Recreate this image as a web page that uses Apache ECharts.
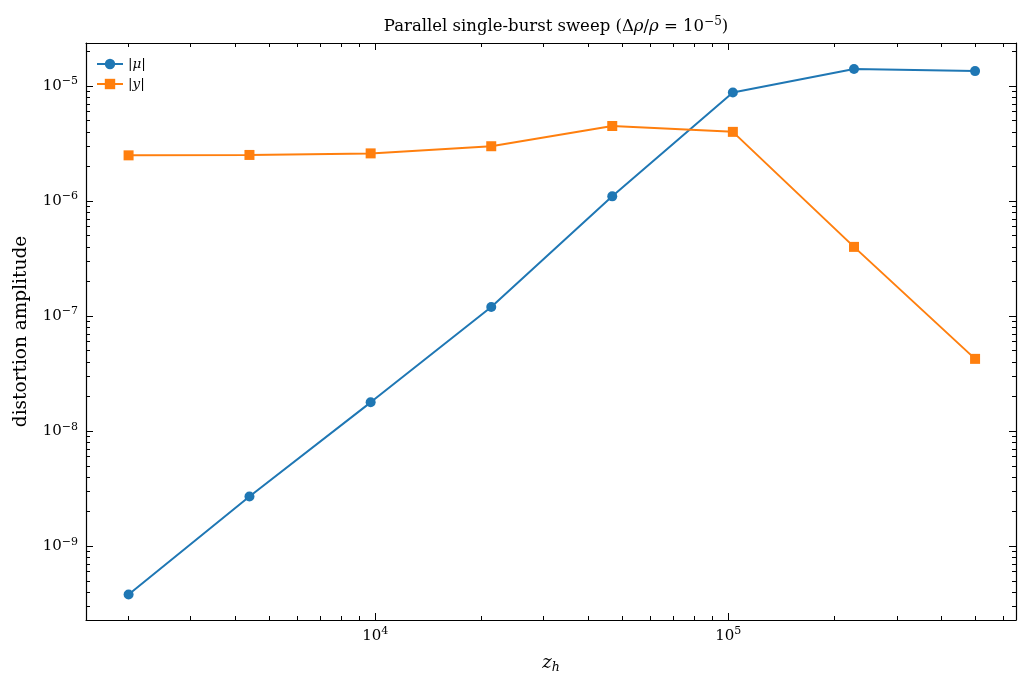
<!DOCTYPE html>
<html>
<head>
<meta charset="utf-8">
<script src="https://cdn.jsdelivr.net/npm/echarts@6/dist/echarts.min.js"></script>
<style>
  html, body { margin: 0; padding: 0; background: #fff; }
  #chart { width: 1031px; height: 684px; }
</style>
</head>
<body>
<div id="chart"></div>
<script>
// data
var zh = [2000, 4400, 9700, 21300, 46900, 103000, 227000, 500000]
var muAmp = [3.8e-10, 2.7e-9, 1.78e-8, 1.2e-7, 1.1e-6, 8.8e-6, 1.41e-5, 1.35e-5]
var yAmp = [2.5e-6, 2.52e-6, 2.6e-6, 3.0e-6, 4.5e-6, 4.0e-6, 4.0e-7, 4.25e-8]

// ticks
var xMajor = [1e4, 1e5]
var yMajor = [1e-9, 1e-8, 1e-7, 1e-6, 1e-5]
var xMinor = [2e3, 3e3, 4e3, 5e3, 6e3, 7e3, 8e3, 9e3, 2e4, 3e4, 4e4, 5e4, 6e4, 7e4, 8e4, 9e4, 2e5, 3e5, 4e5, 5e5, 6e5]
var yMinor = [3e-10, 4e-10, 5e-10, 6e-10, 7e-10, 8e-10, 9e-10,
  2e-9, 3e-9, 4e-9, 5e-9, 6e-9, 7e-9, 8e-9, 9e-9,
  2e-8, 3e-8, 4e-8, 5e-8, 6e-8, 7e-8, 8e-8, 9e-8,
  2e-7, 3e-7, 4e-7, 5e-7, 6e-7, 7e-7, 8e-7, 9e-7,
  2e-6, 3e-6, 4e-6, 5e-6, 6e-6, 7e-6, 8e-6, 9e-6, 2e-5]

var xRange = [1515, 653000]
var yRange = [2.28e-10, 2.37e-5]

var FONT = 'DejaVu Serif'
var supRich = {
  b: { fontFamily: FONT, fontSize: 15, color: '#000' },
  s: { fontFamily: FONT, fontSize: 11, color: '#000', padding: [0, 0, 9, 0] }
}

function powLabel (v) {
  var e = Math.round(Math.log10(v))
  return '{b|10}{s|' + String(e).replace('-', '−') + '}'
}

// one axis: major or minor ticks on one side (matplotlib style, ticks inward)
function axis (pos, range, ticks, len, opts) {
  opts = opts || {}
  return {
    type: 'log',
    logBase: 10,
    position: pos,
    min: range[0],
    max: range[1],
    splitLine: { show: false },
    axisLine: { show: !!opts.line, onZero: false, lineStyle: { color: '#000', width: 1.2 } },
    axisTick: { show: true, inside: true, length: len, customValues: ticks, lineStyle: { color: '#000', width: 1 } },
    axisLabel: opts.label ? {
      show: true, customValues: ticks, formatter: powLabel, rich: supRich, margin: opts.margin
    } : { show: false },
    name: opts.name,
    nameLocation: 'middle',
    nameGap: opts.nameGap,
    nameTextStyle: opts.nameStyle
  }
}

var chart = echarts.init(document.getElementById('chart'))
chart.setOption({
  animation: false,
  title: {
    text: '{r|Parallel single-burst sweep (Δ}{i|ρ}{r|/}{i|ρ}{r| = 10}{s|−5}{r|)}',
    left: 551,
    textAlign: 'center',
    top: 11,
    textStyle: {
      fontWeight: 'normal',
      rich: {
        r: { fontFamily: FONT, fontSize: 16.5, fontWeight: 'normal', color: '#000' },
        i: { fontFamily: FONT, fontSize: 16.5, fontWeight: 'normal', fontStyle: 'italic', color: '#000' },
        s: { fontFamily: FONT, fontSize: 12, fontWeight: 'normal', color: '#000', padding: [0, 0, 9, 0] }
      }
    }
  },
  legend: {
    left: 91,
    top: 52,
    orient: 'vertical',
    itemWidth: 26,
    itemHeight: 13,
    itemGap: 6,
    formatter: function (name) {
      return name === 'mu' ? '|{i|μ}|' : '|{i|y}|'
    },
    textStyle: {
      fontFamily: FONT, fontSize: 13.5, color: '#000',
      rich: { i: { fontFamily: FONT, fontSize: 13.5, fontStyle: 'italic', color: '#000' } }
    }
  },
  grid: { left: 86, right: 15, top: 43, bottom: 64 },
  xAxis: [
    axis('bottom', xRange, xMajor, 7, {
      line: true, label: true, margin: 6,
      name: '{i|z}{sub|h}', nameGap: 33,
      nameStyle: {
        rich: {
          i: { fontFamily: FONT, fontSize: 18, fontStyle: 'italic', color: '#000' },
          sub: { fontFamily: FONT, fontSize: 12.5, fontStyle: 'italic', color: '#000', padding: [8, 0, 0, 0] }
        }
      }
    }),
    axis('bottom', xRange, xMinor, 4),
    axis('top', xRange, xMajor, 7, { line: true }),
    axis('top', xRange, xMinor, 4)
  ],
  yAxis: [
    axis('left', yRange, yMajor, 7, {
      line: true, label: true, margin: 8,
      name: 'distortion amplitude', nameGap: 55,
      nameStyle: { fontFamily: FONT, fontSize: 18.5, color: '#000' }
    }),
    axis('left', yRange, yMinor, 4),
    axis('right', yRange, yMajor, 7, { line: true }),
    axis('right', yRange, yMinor, 4)
  ],
  series: [
    {
      name: 'mu',
      type: 'line',
      data: zh.map(function (z, i) { return [z, muAmp[i]] }),
      symbol: 'circle',
      symbolSize: 10,
      lineStyle: { color: '#1f77b4', width: 2 },
      itemStyle: { color: '#1f77b4' }
    },
    {
      name: 'y',
      type: 'line',
      data: zh.map(function (z, i) { return [z, yAmp[i]] }),
      symbol: 'rect',
      symbolSize: 10,
      lineStyle: { color: '#ff7f0e', width: 2 },
      itemStyle: { color: '#ff7f0e' }
    }
  ]
})
</script>
</body>
</html>
